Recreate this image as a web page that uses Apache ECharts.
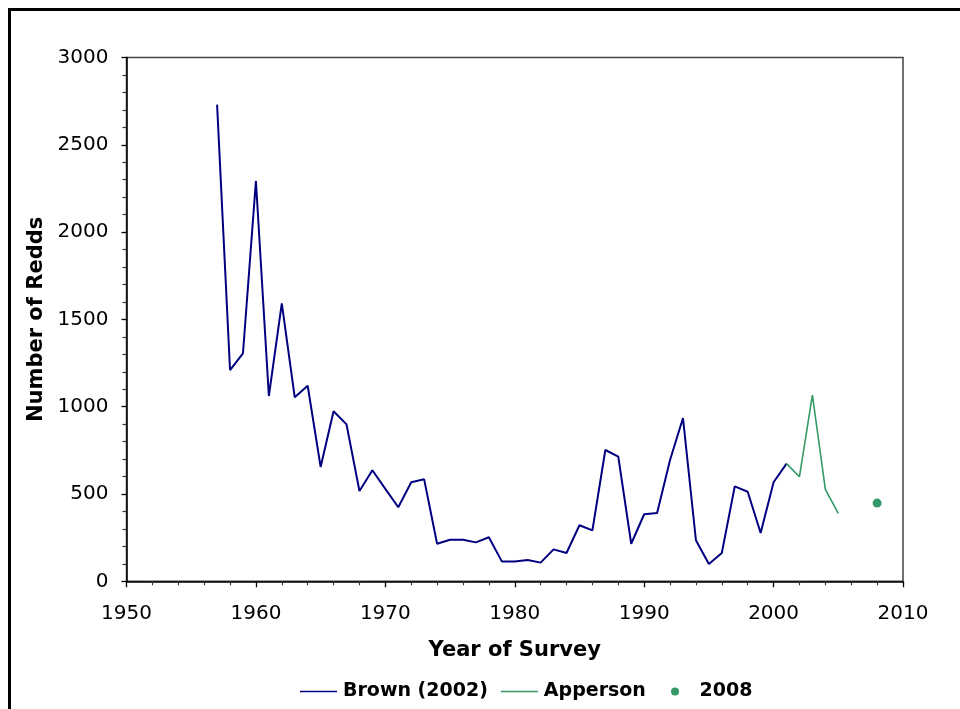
<!DOCTYPE html>
<html>
<head>
<meta charset="utf-8">
<script src="https://cdn.jsdelivr.net/npm/echarts@6/dist/echarts.min.js"></script>
<style>
html,body{margin:0;padding:0;background:#fff;}
#chart{width:960px;height:709px;}
</style>
</head>
<body>
<div id="chart"></div>
<script>
var brownYears = [1957,1958,1959,1960,1961,1962,1963,1964,1965,1966,1967,1968,1969,1970,1971,1972,1973,1974,1975,1976,1977,1978,1979,1980,1981,1982,1983,1984,1985,1986,1987,1988,1989,1990,1991,1992,1993,1994,1995,1996,1997,1998,1999,2000,2001];
var brownValues = [2730,1210,1306,2293,1061,1592,1054,1120,655,974,899,517,636,529,424,567,584,215,238,238,223,252,114,114,122,107,183,162,321,292,752,714,215,384,391,695,935,235,99,162,544,513,277,567,674];
var appersonYears = [2001,2002,2003,2004,2005];
var appersonValues = [674,599,1067,527,389];
var pointYears = [2008];
var pointValues = [448];
var xTicks = [1950,1960,1970,1980,1990,2000,2010];
var yTicks = [0,500,1000,1500,2000,2500,3000];

function pairs(xs, ys){ return xs.map(function(x,i){ return [x, ys[i]]; }); }

var FONT = 'DejaVu Sans';
var chart = echarts.init(document.getElementById('chart'), null, {renderer:'canvas'});
chart.setOption({
  animation:false,
  backgroundColor:'#fff',
  graphic:[{
    type:'polyline', silent:true,
    shape:{points:[[9.5,720],[9.5,9.5],[970,9.5]]},
    style:{stroke:'#000', lineWidth:3, fill:null}
  }],
  grid:{left:126.5, right:57, top:57.5, bottom:127.7, show:true, borderColor:'#444', borderWidth:1.5, backgroundColor:'transparent'},
  legend:[{
    left:295, top:677, itemWidth:37, itemHeight:1.5, itemGap:13, icon:'rect',
    textStyle:{fontFamily:FONT, fontWeight:'bold', fontSize:19, color:'#000', padding:[0,0,0,1]},
    data:['Brown (2002)','Apperson']
  },{
    left:666, top:677, itemWidth:37, itemHeight:8, icon:'circle',
    textStyle:{fontFamily:FONT, fontWeight:'bold', fontSize:19, color:'#000', padding:[0,0,0,1]},
    data:['2008']
  }],
  xAxis:{
    type:'value', min:xTicks[0], max:xTicks[xTicks.length-1], interval:10,
    name:'Year of Survey', nameLocation:'middle', nameGap:59,
    nameTextStyle:{fontFamily:FONT, fontWeight:'bold', fontSize:21, color:'#000'},
    axisLine:{lineStyle:{color:'#000', width:1.5}},
    axisTick:{show:true, length:6, lineStyle:{color:'#000', width:1.3}},
    minorTick:{show:true, splitNumber:5, length:4, lineStyle:{color:'#333', width:1.2}},
    splitLine:{show:false},
    axisLabel:{fontFamily:FONT, fontSize:20, color:'#000', margin:22, formatter:function(v){return String(v);}}
  },
  yAxis:{
    type:'value', min:yTicks[0], max:yTicks[yTicks.length-1], interval:500,
    name:'Number of Redds', nameLocation:'middle', nameGap:73,
    nameTextStyle:{fontFamily:FONT, fontWeight:'bold', fontSize:21, color:'#000'},
    axisLine:{show:true, lineStyle:{color:'#000', width:1.5}},
    axisTick:{show:true, length:5, lineStyle:{color:'#000', width:1.3}},
    minorTick:{show:true, splitNumber:5, length:4, lineStyle:{color:'#333', width:1.2}},
    splitLine:{show:false},
    axisLabel:{fontFamily:FONT, fontSize:20, color:'#000', margin:18, formatter:function(v){return String(v);}}
  },
  series:[{
    name:'Brown (2002)', type:'line', symbol:'none', data:pairs(brownYears, brownValues),
    lineStyle:{color:'#000080', width:2}, itemStyle:{color:'#000080'}
  },{
    name:'Apperson', type:'line', symbol:'none', data:pairs(appersonYears, appersonValues),
    lineStyle:{color:'#339966', width:1.6}, itemStyle:{color:'#339966'}
  },{
    name:'2008', type:'scatter', symbol:'circle', symbolSize:9, data:pairs(pointYears, pointValues),
    itemStyle:{color:'#339966', opacity:1}
  }]
});
</script>
</body>
</html>
